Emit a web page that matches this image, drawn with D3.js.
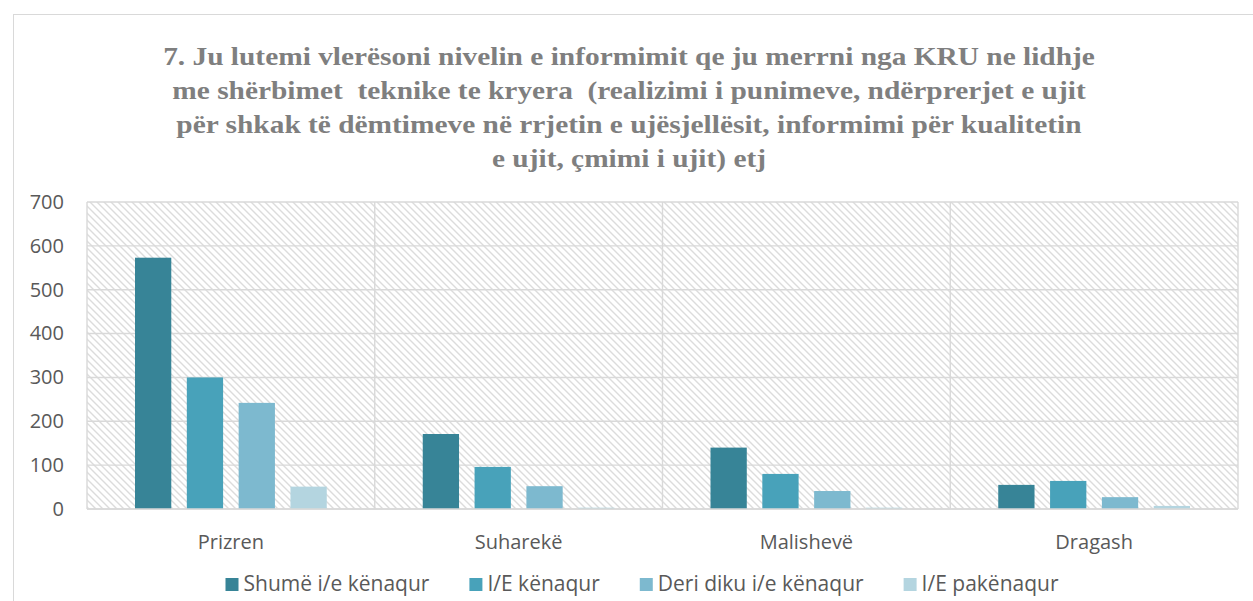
<!DOCTYPE html>
<html>
<head>
<meta charset="utf-8">
<script src="https://cdn.jsdelivr.net/npm/d3@7"></script>
<style>
  html, body { margin: 0; padding: 0; background: #fff; }
  svg { display: block; }
  text { font-family: "Open Sans", "Noto Sans", sans-serif; }
</style>
</head>
<body>
<div id="chart"></div>
<script>
// ---- data ----
const categories = ['Prizren', 'Suharekë', 'Malishevë', 'Dragash'];
const seriesNames = ['Shumë i/e kënaqur', 'I/E kënaqur', 'Deri diku i/e kënaqur', 'I/E pakënaqur'];
const shumeKenaqur = [573, 171, 140, 55];
const kenaqur = [300, 96, 80, 64];
const deriDiku = [242, 52, 41, 27];
const pakenaqur = [51, 3, 3, 7];
const yTicks = [0, 100, 200, 300, 400, 500, 600, 700];
const titleLines = [
  '7. Ju lutemi vlerësoni nivelin e informimit qe ju merrni nga KRU ne lidhje',
  'me shërbimet  teknike te kryera  (realizimi i punimeve, ndërprerjet e ujit',
  'për shkak të dëmtimeve në rrjetin e ujësjellësit, informimi për kualitetin',
  'e ujit, çmimi i ujit) etj'
];
const colors = ['#378497', '#48a2ba', '#7db9cf', '#b4d5e0'];

const seriesValues = [shumeKenaqur, kenaqur, deriDiku, pakenaqur];

const W = 1253, H = 601;
const plot = { left: 87, right: 1238, top: 202, bottom: 509 };

const svg = d3.select('#chart').append('svg')
  .attr('width', W).attr('height', H);

// hatch fill for plot background
const defs = svg.append('defs');
defs.append('pattern')
  .attr('id', 'hatch')
  .attr('patternUnits', 'userSpaceOnUse')
  .attr('width', 7).attr('height', 7)
  .append('path')
  .attr('d', 'M0,0L7,7M-1,6L1,8M6,-1L8,1')
  .attr('stroke', '#dcdcdc')
  .attr('stroke-width', 1.4);

// outer chart border (runs off the right/bottom of the picture)
svg.append('rect')
  .attr('x', 13.5).attr('y', 14.5)
  .attr('width', W + 20).attr('height', H + 20)
  .attr('fill', 'none').attr('stroke', '#d9d9d9').attr('stroke-width', 1);

// ---- title ----
const title = svg.append('g').attr('class', 'title');
const titleText = title.append('text')
  .attr('text-anchor', 'middle')
  .attr('fill', '#7f7f7f')
  .style('font-family', '"Liberation Serif", "DejaVu Serif", serif')
  .style('font-weight', 700)
  .style('font-size', '26px')
  .style('white-space', 'pre')
  .attr('xml:space', 'preserve');
titleLines.forEach(function (line, i) {
  titleText.append('tspan')
    .attr('x', 0)
    .attr('y', 65 + i * 34)
    .text(line);
});
// stretch horizontally so the first line spans like the original Cambria
const firstLen = titleText.select('tspan').node().getComputedTextLength();
const sx = 932 / firstLen;
title.attr('transform', 'translate(629,0) scale(' + sx + ',1)');

// ---- scales ----
const y = d3.scaleLinear().domain([0, 700]).range([plot.bottom, plot.top]);
const x0 = d3.scaleBand().domain(categories).range([plot.left, plot.right]).padding(0);
const x1 = d3.scaleBand().domain(seriesNames)
  .range([48, x0.bandwidth() - 48]).paddingInner(0.3).paddingOuter(0);

// plot background
svg.append('rect')
  .attr('x', plot.left).attr('y', plot.top)
  .attr('width', plot.right - plot.left).attr('height', plot.bottom - plot.top)
  .attr('fill', 'url(#hatch)');

// gridlines
const grid = svg.append('g').attr('class', 'grid')
  .attr('stroke', '#d9d9d9').attr('stroke-width', 1.4);
grid.selectAll('line.h').data(yTicks).enter().append('line')
  .attr('class', 'h')
  .attr('x1', plot.left).attr('x2', plot.right)
  .attr('y1', function (d) { return y(d); }).attr('y2', function (d) { return y(d); });
const vEdges = categories.map(function (c) { return x0(c); }).concat([plot.right]);
grid.selectAll('line.v').data(vEdges).enter().append('line')
  .attr('class', 'v')
  .attr('y1', plot.top).attr('y2', plot.bottom)
  .attr('x1', function (d) { return d; }).attr('x2', function (d) { return d; });

// y axis labels
const yAxis = svg.append('g')
  .attr('transform', 'translate(' + (plot.left - 23) + ',0)')
  .call(d3.axisLeft(y).tickValues(yTicks).tickSize(0).tickPadding(0));
yAxis.select('.domain').remove();
yAxis.selectAll('text')
  .attr('fill', '#595959')
  .style('font-size', '20px')
  .style('font-family', '"Open Sans", sans-serif');

// bars
const rows = categories.map(function (c, i) {
  return { cat: c, vals: seriesNames.map(function (s, j) { return { s: s, j: j, v: seriesValues[j][i] }; }) };
});
const groups = svg.append('g').selectAll('g').data(rows).enter().append('g')
  .attr('transform', function (d) { return 'translate(' + x0(d.cat) + ',0)'; });
groups.selectAll('rect').data(function (d) { return d.vals; }).enter().append('rect')
  .attr('x', function (d) { return x1(d.s); })
  .attr('width', x1.bandwidth())
  .attr('y', function (d) { return y(d.v); })
  .attr('height', function (d) { return y(0) - y(d.v); })
  .attr('fill', function (d) { return colors[d.j]; });

// zero line
svg.append('line')
  .attr('x1', plot.left).attr('x2', plot.right)
  .attr('y1', y(0)).attr('y2', y(0))
  .attr('stroke', '#d9d9d9').attr('stroke-width', 1.6);

// category labels
const xAxis = svg.append('g')
  .attr('transform', 'translate(0,' + plot.bottom + ')')
  .call(d3.axisBottom(x0).tickSize(0).tickPadding(0));
xAxis.select('.domain').remove();
xAxis.selectAll('text')
  .attr('y', 40).attr('dy', null)
  .attr('fill', '#595959')
  .style('font-size', '20px')
  .style('font-family', '"Open Sans", sans-serif');

// legend
const legend = svg.append('g').attr('class', 'legend');
const items = legend.selectAll('g').data(seriesNames).enter().append('g');
items.append('rect')
  .attr('width', 13).attr('height', 13)
  .attr('y', -13)
  .attr('fill', function (d, i) { return colors[i]; });
items.append('text')
  .attr('x', 18)
  .attr('fill', '#595959')
  .style('font-size', '21px')
  .text(function (d) { return d; });
let cursor = 0;
const offsets = [];
items.each(function () {
  const w = d3.select(this).select('text').node().getComputedTextLength();
  offsets.push(cursor);
  cursor += 18 + w + 40;
});
const total = cursor - 40;
const legendStart = 642 - total / 2;
items.attr('transform', function (d, i) { return 'translate(' + (legendStart + offsets[i]) + ',591)'; });
</script>
</body>
</html>
